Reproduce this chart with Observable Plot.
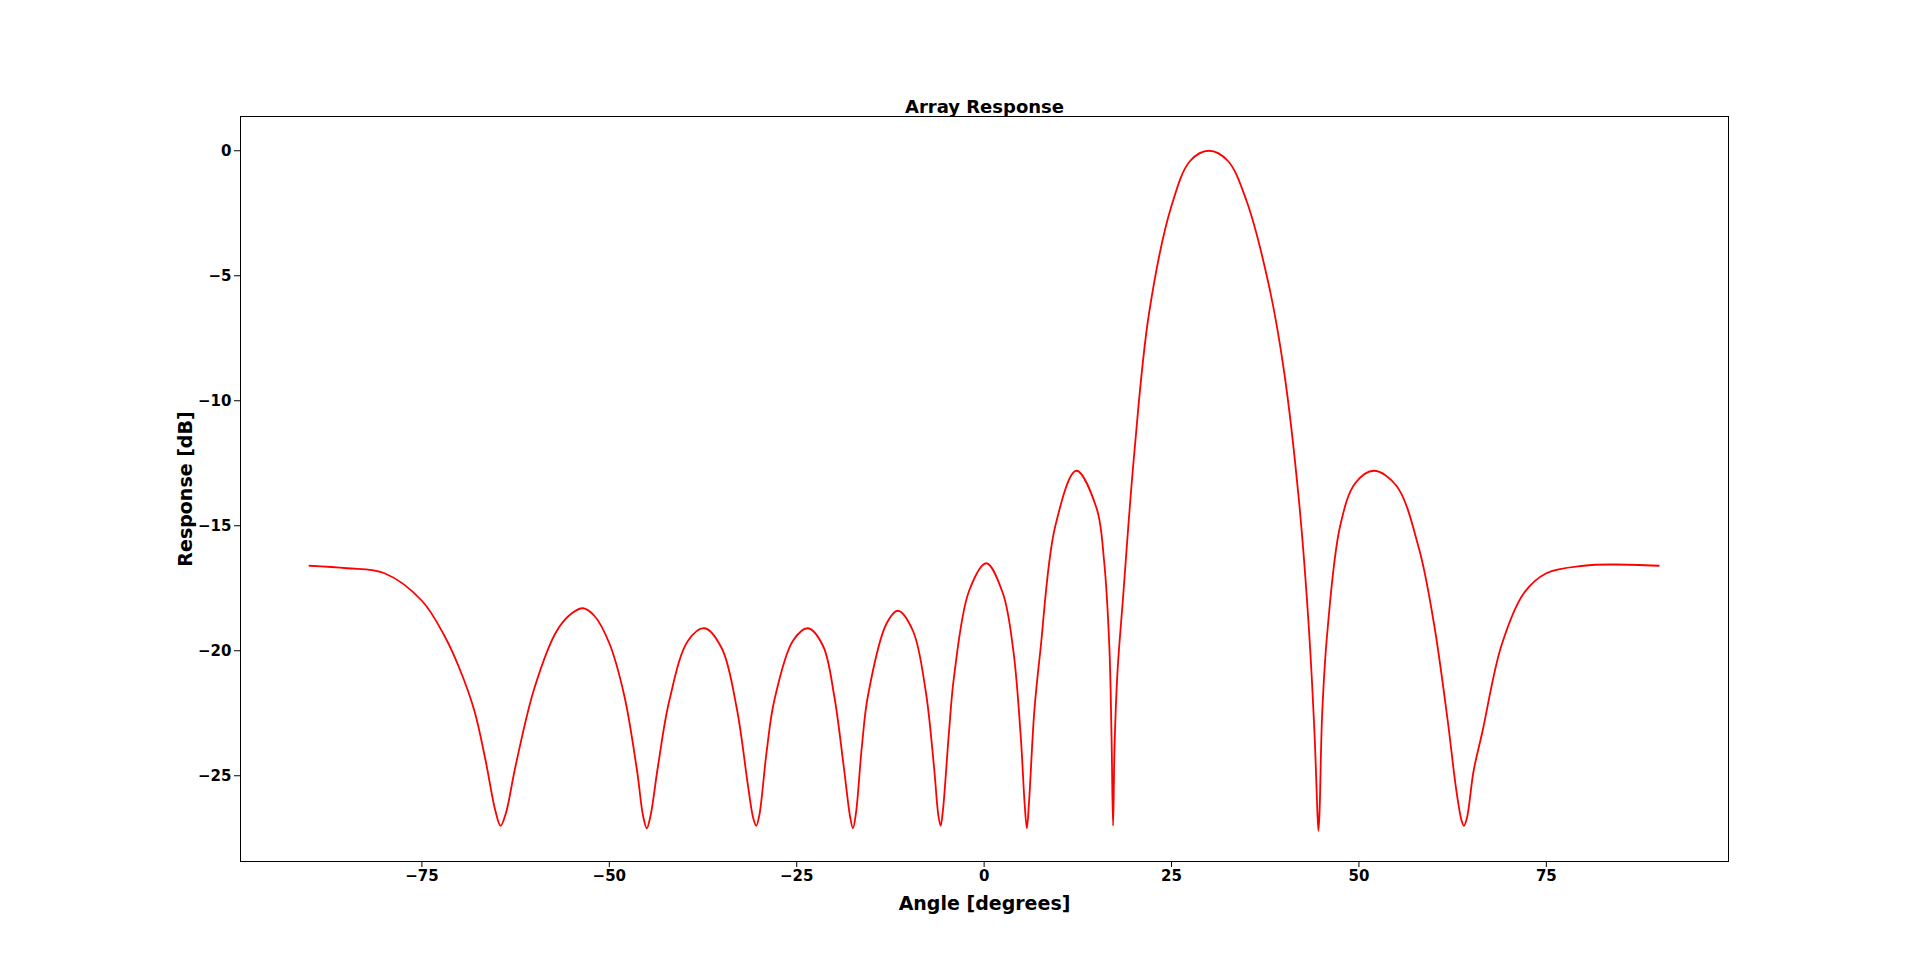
<!DOCTYPE html>
<html><head><meta charset="utf-8">
<script src="https://cdn.jsdelivr.net/npm/d3@7"></script>
<script src="https://cdn.jsdelivr.net/npm/@observablehq/plot@0.6"></script>
<style>body{margin:0;background:#fff;font-family:"DejaVu Sans",sans-serif}</style>
</head><body><div id="c"></div>
<script>
const angles = [-90,-85,-80,-75,-72,-70,-68,-66.5,-65.2,-64.5,-63.8,-62.5,-60,-57,-55,-53.5,-52,-50,-48,-46.3,-45.5,-45,-44.5,-43.5,-42,-39.5,-37.3,-35,-33,-31.5,-30.8,-30.4,-30,-29,-28,-25.5,-23.5,-21.5,-20,-18.7,-17.9,-17.5,-17.1,-16.3,-15.5,-13,-11.5,-9.5,-7.8,-6.7,-6.1,-5.8,-5.5,-4.7,-4,-2,0.3,2.5,3.9,4.9,5.4,5.7,6.0,6.7,7.5,9.5,12.3,15,16.0,16.7,17.0,17.2,17.4,17.8,18.5,20,22,25,27.5,30,32.5,35,38,40,42,43.3,44.1,44.45,44.6,44.75,45.1,45.8,47.5,49.5,52,55,58,60,61.8,63,63.7,64,64.4,65.3,66.5,69,72,75,80,84,90];
const response = [-16.6,-16.7,-16.9,-18.0,-19.4,-20.7,-22.4,-24.4,-26.4,-27.0,-26.5,-24.6,-21.5,-19.2,-18.5,-18.3,-18.6,-19.7,-21.8,-24.8,-26.6,-27.1,-26.6,-24.6,-22.0,-19.6,-19.1,-19.9,-22.3,-25.4,-26.7,-27.0,-26.6,-24.0,-22.0,-19.6,-19.1,-19.8,-21.8,-24.7,-26.6,-27.1,-26.5,-23.8,-21.8,-18.9,-18.4,-19.2,-21.6,-24.6,-26.6,-27.0,-26.4,-23.3,-21.0,-17.6,-16.5,-17.7,-20.0,-23.5,-26.1,-27.1,-26.0,-22.4,-20.0,-15.0,-12.8,-14.3,-16.4,-19.8,-23.5,-27.0,-23.8,-20.8,-18.0,-12.2,-6.5,-2.2,-0.4,0,-0.4,-2.0,-5.4,-8.8,-14.0,-19.0,-23.5,-26.4,-27.2,-26.4,-22.5,-19.2,-15.0,-13.3,-12.8,-13.4,-15.9,-18.9,-22.7,-25.6,-26.8,-27.0,-26.7,-24.8,-23.2,-19.8,-17.7,-16.9,-16.6,-16.55,-16.6];
const xTicks = [-75,-50,-25,0,25,50,75];
const yTicks = [0,-5,-10,-15,-20,-25];
const data = angles.map((a,i)=>({a, r: response[i]}));
const fnt = '"DejaVu Sans",sans-serif';
const chart = Plot.plot({
  width:1920, height:967,
  marginLeft:240, marginRight:192, marginTop:116, marginBottom:106,
  style:{fontFamily:fnt, fontSize:"15px", fontWeight:"bold", color:"#000", background:"#fff"},
  x:{domain:[-99.2,99.3], ticks:xTicks, tickFormat:d=>String(d).replace("-","\u2212"), label:"Angle [degrees]", labelAnchor:"center", labelArrow:"none", labelOffset:48, tickSize:6},
  y:{domain:[-28.43,1.37], ticks:yTicks, tickFormat:d=>String(d).replace("-","\u2212"), label:"Response [dB]", labelAnchor:"center", labelArrow:"none", labelOffset:62, tickSize:6},
  marks:[
    Plot.frame({stroke:"#000", strokeWidth:1}),
    Plot.line(data,{x:"a", y:"r", stroke:"red", strokeWidth:1.8, curve:"catmull-rom"}),
    Plot.text(["Array Response"],{frameAnchor:"top", dy:-16, fontSize:18, fontWeight:"bold", fill:"#000"})
  ]
});
chart.querySelectorAll('[aria-label="x-axis label"] text,[aria-label="y-axis label"] text').forEach(t=>t.setAttribute("font-size","19"));
document.getElementById("c").appendChild(chart);
</script></body></html>
